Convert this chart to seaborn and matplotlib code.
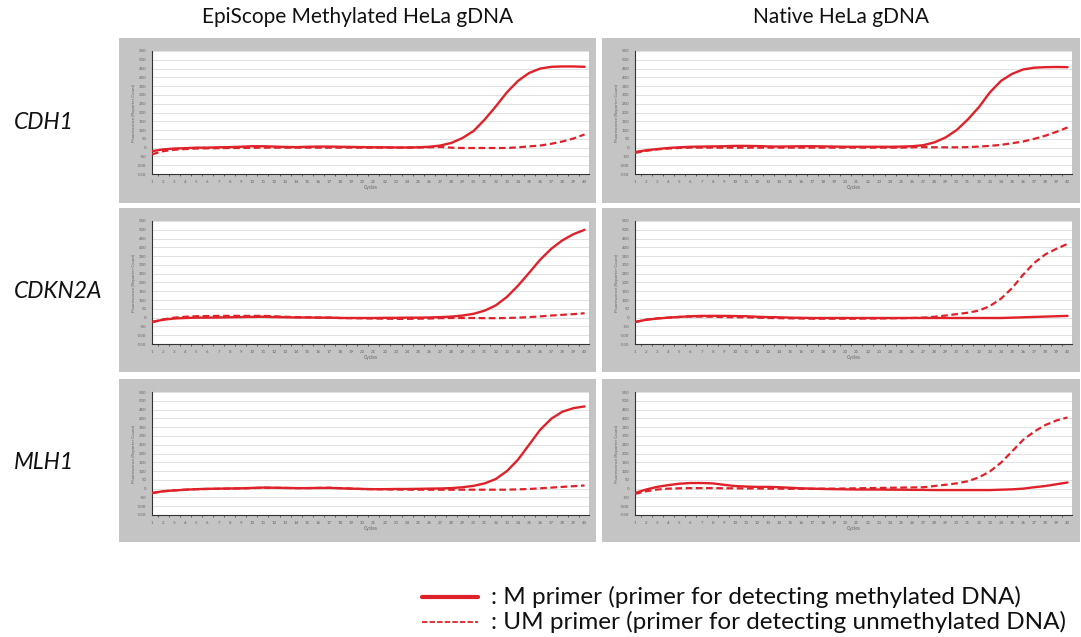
import numpy as np
import pandas as pd
import matplotlib
matplotlib.use("Agg")
import matplotlib.pyplot as plt
import seaborn as sns
from matplotlib.lines import Line2D

sns.set_theme(style="white")
plt.rcParams['font.family'] = ['Lato', 'DejaVu Sans']

# ---------------- data ----------------
cycles = list(range(1, 41))
col_titles = ["EpiScope Methylated HeLa gDNA", "Native HeLa gDNA"]
row_genes = ["CDH1", "CDKN2A", "MLH1"]
legend_labels = [": M primer (primer for detecting methylated DNA)",
                 ": UM primer (primer for detecting unmethylated DNA)"]

cdh1_epi_m = [-20, -10, -5, -3, 0, 0, 2, 3, 5, 8, 8, 6, 4, 3, 5, 6, 6, 5, 4, 3,
              2, 2, 1, 1, 2, 5, 12, 27, 55, 95, 160, 235, 315, 380, 425, 450, 460, 462, 462, 460]
cdh1_epi_um = [-38, -20, -12, -8, -5, -4, -3, -2, -2, -1, 0, 0, 0, 0, 0, 0, 0, 0, 0, 0,
               0, 0, 0, 0, 1, 2, 4, 0, -2, -2, -2, -2, -2, 2, 7, 12, 22, 35, 52, 75]
cdh1_nat_m = [-25, -15, -8, -2, 2, 5, 6, 7, 8, 10, 10, 9, 7, 6, 7, 8, 8, 7, 6, 5,
              5, 5, 5, 5, 6, 8, 14, 30, 58, 100, 160, 230, 315, 380, 420, 445, 455, 458, 459, 458]
cdh1_nat_um = [-30, -18, -10, -5, -2, 0, 0, 0, 0, 0, 0, 0, 0, 0, 0, 0, 0, 0, 0, 0,
               0, 0, 0, 0, 0, 2, 3, 2, 2, 2, 3, 6, 10, 16, 25, 35, 50, 68, 90, 115]
cdkn2a_epi_m = [-25, -12, -5, -2, 0, 0, 1, 2, 3, 4, 5, 3, 2, 1, 1, 0, 0, -2, -2, -2,
                -2, -1, -1, 0, 0, 1, 3, 6, 12, 22, 40, 70, 118, 182, 255, 330, 392, 440, 475, 500]
cdkn2a_epi_um = [-25, -10, 0, 5, 8, 9, 10, 10, 10, 10, 10, 8, 5, 3, 2, 1, 0, -2, -3, -4,
                 -5, -6, -7, -7, -6, -5, -3, -2, -2, -2, -3, -3, -2, 0, 3, 7, 12, 16, 20, 25]
cdkn2a_nat_m = [-25, -12, -5, 0, 4, 8, 10, 10, 10, 9, 8, 5, 3, 2, 0, -1, -2, -2, -2, -2,
                -2, -2, -2, -2, -2, -2, -2, -2, -2, -2, -2, -2, -2, -2, 0, 2, 4, 6, 8, 10]
cdkn2a_nat_um = [-25, -12, -4, 0, 4, 6, 6, 5, 3, 2, 2, 0, -2, -3, -4, -5, -6, -6, -6, -6,
                 -6, -5, -5, -4, -3, -2, 0, 5, 12, 20, 28, 40, 66, 108, 168, 245, 312, 360, 392, 420]
mlh1_epi_m = [-25, -15, -10, -6, -3, -1, 0, 1, 2, 4, 6, 5, 4, 3, 3, 4, 4, 2, 0, -2,
              -3, -3, -2, -2, -1, 0, 1, 3, 8, 16, 30, 55, 100, 165, 250, 335, 398, 438, 458, 468]
mlh1_epi_um = [-25, -15, -10, -6, -3, -2, -1, 0, 1, 3, 5, 5, 4, 3, 3, 4, 5, 3, 0, -2,
               -3, -4, -5, -6, -6, -6, -6, -6, -6, -6, -6, -6, -6, -4, -2, 2, 6, 10, 14, 18]
mlh1_nat_m = [-25, -5, 10, 20, 28, 32, 32, 30, 22, 15, 12, 10, 10, 8, 5, 2, 0, -2, -3, -4,
              -5, -5, -5, -6, -6, -7, -7, -8, -8, -8, -8, -8, -8, -6, -4, 0, 8, 15, 25, 35]
mlh1_nat_um = [-30, -15, -5, 0, 2, 3, 3, 3, 2, 2, 1, 1, 0, 0, -1, -1, -1, 0, 0, 1,
               2, 3, 4, 5, 6, 7, 8, 15, 22, 30, 42, 64, 98, 148, 212, 278, 325, 362, 388, 405]

panels = {
    (0, 0): (cdh1_epi_m, cdh1_epi_um),
    (0, 1): (cdh1_nat_m, cdh1_nat_um),
    (1, 0): (cdkn2a_epi_m, cdkn2a_epi_um),
    (1, 1): (cdkn2a_nat_m, cdkn2a_nat_um),
    (2, 0): (mlh1_epi_m, mlh1_epi_um),
    (2, 1): (mlh1_nat_m, mlh1_nat_um),
}

# ---------------- layout ----------------
W, H = 1081, 637
fig = plt.figure(figsize=(W / 100, H / 100), dpi=100)
fig.patch.set_facecolor("white")

RED = "#df2229"
GRAY = "#c4c4c4"

col_x = [(119, 596), (602, 1080)]
row_y = [(38, 203), (208, 372), (379, 542)]


def fx(x):
    return x / W


def fy(y):
    return 1 - y / H


for (r, c), (m_vals, um_vals) in panels.items():
    x0, x1 = col_x[c]
    y0, y1 = row_y[r]
    bg = fig.add_axes([fx(x0), fy(y1), fx(x1) - fx(x0), fy(y0) - fy(y1)], zorder=0)
    bg.set_facecolor(GRAY)
    bg.set_xticks([])
    bg.set_yticks([])
    for s in bg.spines.values():
        s.set_visible(False)
    ax_l, ax_r = x0 + 33, x0 + 470
    ax_t, ax_b = y0 + 13, y0 + 136
    ax = fig.add_axes([fx(ax_l), fy(ax_b), fx(ax_r) - fx(ax_l), fy(ax_t) - fy(ax_b)], zorder=2)
    ax.set_facecolor("white")
    df = pd.DataFrame({"Cycles": cycles, "M": m_vals, "UM": um_vals})
    sns.lineplot(data=df, x="Cycles", y="M", ax=ax, color=RED, lw=1.7, zorder=3)
    sns.lineplot(data=df, x="Cycles", y="UM", ax=ax, color=RED, lw=1.6,
                 linestyle=(0, (3, 1.6)), zorder=3)
    ax.set_xlim(1, 40.4)
    ax.set_ylim(-150, 550)
    ax.set_yticks(np.arange(-150, 551, 50))
    ax.set_xticks(cycles)
    ax.set_xticklabels([str(v) for v in cycles], fontsize=3.2, color="#666666")
    ax.set_yticklabels([str(v) for v in range(-150, 551, 50)], fontsize=3.2, color="#666666")
    ax.set_xticks(np.arange(1.5, 40.5, 1), minor=True)
    ax.tick_params(axis="both", which="major", length=2.5, width=0.6, color="#333333", pad=1.5)
    ax.tick_params(axis="x", which="minor", length=1.5, width=0.5, color="#333333", bottom=True)
    ax.grid(axis="y", color="#dcdcdc", lw=0.6)
    ax.set_axisbelow(True)
    for s in ["top", "right"]:
        ax.spines[s].set_visible(False)
    for s in ["left", "bottom"]:
        ax.spines[s].set_color("#333333")
        ax.spines[s].set_linewidth(0.8)
    ax.set_xlabel("Cycles", fontsize=3.5, color="#666666", labelpad=1)
    ax.set_ylabel("Fluorescence (Reporter Count)", fontsize=3.2, color="#666666", labelpad=1)

# column titles
for c, title in enumerate(col_titles):
    x0, x1 = col_x[c]
    fig.text(fx((x0 + x1) / 2), fy(17), title, ha="center", va="center",
             fontsize=15, color="#111111")

# row labels
for r, gene in enumerate(row_genes):
    y0, y1 = row_y[r]
    fig.text(fx(14), fy((y0 + y1) / 2 + 2), gene, ha="left", va="center",
             fontsize=16.5, style="italic", color="#111111")

# legend
fig.add_artist(Line2D([fx(422), fx(478)], [fy(597), fy(597)], color=RED, lw=3,
                      transform=fig.transFigure))
fig.add_artist(Line2D([fx(422), fx(478)], [fy(622), fy(622)], color=RED, lw=1.3,
                      linestyle=(0, (3, 1.2)), transform=fig.transFigure))
fig.text(fx(491), fy(597), legend_labels[0], ha="left", va="center", fontsize=17.5, color="#111111")
fig.text(fx(491), fy(622), legend_labels[1], ha="left", va="center", fontsize=17.5, color="#111111")

fig.savefig("out.png", dpi=100)
